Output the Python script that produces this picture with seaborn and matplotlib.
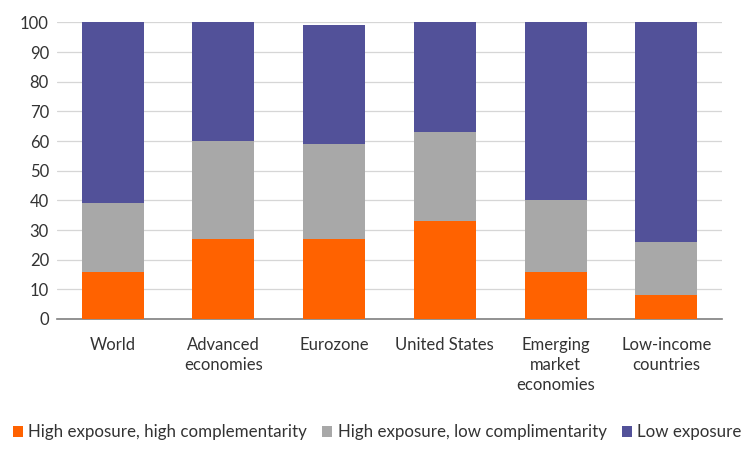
import matplotlib
matplotlib.use('Agg')

import numpy as np
import pandas as pd
import matplotlib.pyplot as plt
import seaborn as sns
from matplotlib.patches import Patch

# ============================================================
# Data
# ============================================================

categories = [
    'World',
    'Advanced\neconomies',
    'Eurozone',
    'United States',
    'Emerging\nmarket\neconomies',
    'Low-income\ncountries'
]

high_exp_high_comp = [16, 27, 27, 33, 16, 8]
high_exp_low_comp = [23, 33, 32, 30, 24, 18]
low_exposure = [61, 40, 40, 37, 60, 74]

series_names = [
    'High exposure, high complementarity',
    'High exposure, low complimentarity',
    'Low exposure'
]

colors = ['#FF6200', '#A8A8A8', '#525199']

# ============================================================
# Figure
# ============================================================

sns.set_style('white')
plt.rcParams['font.family'] = ['Lato', 'DejaVu Sans']

fig = plt.figure(figsize=(7.44, 4.57), dpi=100)
ax = fig.add_axes([0.077, 0.302, 0.893, 0.649])

# cumulative tops, drawn back to front
layer1 = np.array(high_exp_high_comp)
layer2 = layer1 + np.array(high_exp_low_comp)
layer3 = layer2 + np.array(low_exposure)

for tops, col in zip([layer3, layer2, layer1], colors[::-1]):
    df = pd.DataFrame({'cat': categories, 'val': tops})
    sns.barplot(
        data=df, x='cat', y='val', color=col,
        width=0.56, saturation=1, ax=ax, zorder=3,
        linewidth=0, edgecolor='none'
    )

ax.set_ylim(0, 100)
ax.set_xlim(-0.5, len(categories) - 0.5)
ax.set_yticks(range(0, 101, 10))
ax.yaxis.grid(True, color='#d6d6d6', linewidth=0.9, zorder=0)
ax.set_axisbelow(True)

ax.set_xlabel('')
ax.set_ylabel('')

for side in ['top', 'right', 'left']:
    ax.spines[side].set_visible(False)
ax.spines['bottom'].set_color('#7f7f7f')
ax.spines['bottom'].set_linewidth(1.2)

# separator ticks between categories
ax.set_xticks(np.arange(-0.5, len(categories), 1.0))
ax.set_xticklabels([])
ax.tick_params(axis='x', which='major', length=6, width=1.2,
               color='#7f7f7f', direction='out')
ax.set_xticks(range(len(categories)), minor=True)
ax.set_xticklabels(categories, minor=True, fontsize=12,
                   color='#333333', linespacing=1.3, va='top')
ax.tick_params(axis='x', which='minor', length=0, pad=13)

ax.tick_params(axis='y', length=0, labelsize=12,
               labelcolor='#333333', pad=6)

handles = [Patch(facecolor=c, edgecolor='none') for c in colors]
fig.legend(
    handles, series_names,
    loc='center', bbox_to_anchor=(0.507, 0.054),
    ncol=3, frameon=False, fontsize=12.2,
    handlelength=0.6, handleheight=0.6,
    handletextpad=0.3, columnspacing=0.9,
    labelcolor='#333333'
)

fig.savefig('out.png', dpi=100)
plt.close(fig)
